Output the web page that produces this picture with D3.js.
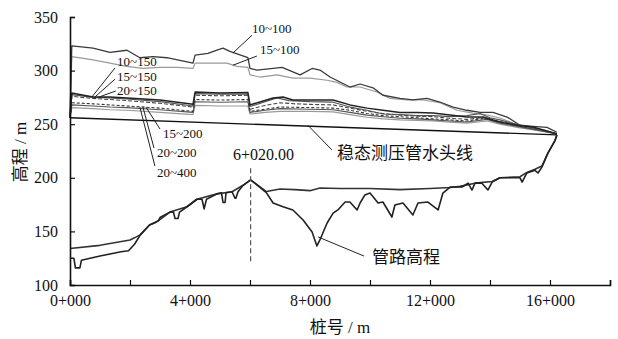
<!DOCTYPE html>
<html><head><meta charset="utf-8">
<script src="https://cdn.jsdelivr.net/npm/d3@7"></script>
<style>
body{margin:0;background:#fff;}
text{font-family:"Liberation Serif","Times New Roman","Noto Sans CJK SC",serif;fill:#111;}
.cjk{font-family:"Liberation Serif","Noto Sans CJK SC",serif;}
</style></head><body>
<svg id="c" width="618" height="339"></svg>
<script>
// ---- data (x: station m, y: elevation m) ----
const xTicks = [0,2000,4000,6000,8000,10000,12000,14000,16000,18000];
const xTickLabels = {0:"0+000",4000:"4+000",8000:"8+000",12000:"12+000",16000:"16+000"};
const yTicks = [100,150,200,250,300,350];

const steady = [[0,256],[16230,240]];

const h10_100 = [[0,256],[60,323],[770,321],[1330,317],[1900,319],[2330,312],[2770,313],[3230,312],[4100,307],[4170,314.5],[4600,316],[4900,319],[5100,321],[5330,318],[5930,312],[6000,302],[6230,300.5],[6770,302],[7070,303],[7670,296],[8070,302],[8330,300.5],[8670,294],[9100,288],[9330,284.7],[9670,287.5],[10100,284],[10430,277],[11000,274],[11430,272.6],[11900,274],[12330,270.7],[12770,266],[13230,263],[13670,261],[14100,261],[14570,256.7],[15000,249],[15430,248],[15900,247],[16230,242.5]];
const h15_100 = [[0,256],[60,313],[770,310],[1330,307],[1900,304],[2430,302],[3000,303],[3570,303],[4100,302],[4170,307],[4670,307],[5230,307],[5570,304],[5930,303],[6000,296],[6330,294],[6900,296],[7430,293],[8000,293],[8570,291],[8900,289],[9230,284.7],[9670,284.7],[10230,280],[10670,274],[11230,272.6],[11770,272.6],[12330,270],[12900,263],[13430,260.4],[13900,258.6],[14330,255.8],[14770,251],[15230,247.4],[15830,244.6],[16230,241]];
const h10_150 = [[0,256],[60,279],[770,275.4],[1330,275.4],[1900,274.4],[3000,272.6],[4100,268.5],[4170,280],[5000,279],[5930,279.5],[6000,268],[6330,270.7],[6770,274.4],[7100,275.4],[7430,272.6],[8000,272.6],[8770,272.6],[9330,268],[9900,265],[10430,263],[11000,261],[11570,261],[12100,260.4],[12670,258.6],[13230,256.7],[13770,256.7],[14330,252],[14900,249],[15430,247.4],[16230,241]];
const h15_150 = [[0,256],[60,277.5],[770,275],[1330,274.5],[1900,273.5],[3000,271],[4100,267],[4170,278.5],[5000,278],[5930,278],[6000,266.5],[6400,270],[6900,274.5],[7300,272],[8000,271],[8770,270.5],[9330,266],[9900,263],[10430,259.5],[11000,259],[11570,258],[12100,258],[12670,257],[13230,258],[13670,260],[14000,256],[14330,254],[15000,249],[15600,245],[16230,241]];
const h20_150 = [[0,256],[60,276],[770,274],[1330,273],[1900,272],[3000,269.5],[4100,266],[4170,277],[5000,276.5],[5930,277],[6000,264],[6500,267.5],[7000,270],[7500,269],[8000,268.5],[8770,268],[9330,265],[9900,262],[10430,260],[11000,258.5],[11570,257.5],[12100,257],[12670,255.5],[13230,254.5],[13770,256],[14330,252.5],[15000,249],[15600,245.5],[16230,241]];
const h15_200 = [[0,256],[60,270],[770,269],[1330,268],[1900,267],[3000,265],[4100,262],[4170,273],[5000,272.5],[5930,273],[6000,262],[6500,264],[7000,266],[8000,265.5],[8770,265],[9330,263],[9900,260],[10430,258],[11000,257],[11570,256],[12100,255],[12670,254],[13230,253],[13800,255.5],[14330,252],[15000,248],[15600,245],[16230,241]];
const h20_200 = [[0,256],[60,268],[770,267],[1330,266],[1900,265.5],[3000,263.5],[4100,261],[4170,271],[5000,270.5],[5930,271],[6000,261],[6500,263],[7000,264.5],[8000,264],[8770,263.5],[9330,261],[9900,258.5],[10430,257],[11000,255.5],[11570,255],[12100,254],[12670,253],[13230,252],[13900,254.5],[14330,251],[15000,247.5],[15600,244.5],[16230,241]];
const h20_400 = [[0,256],[60,265.5],[770,264.5],[1330,263.5],[1900,263],[3000,261],[4100,259],[4170,267.5],[5000,267],[5930,267],[6000,259.5],[6500,261],[7000,262],[8000,262],[8770,261.5],[9330,259],[9900,256.5],[10430,255],[11000,254],[11570,253.5],[12100,253],[12670,252],[13230,251],[13900,253],[14330,250],[15000,246.5],[15600,244],[16230,241]];

const pipeline = [[0,125],[130,125],[180,116],[330,116],[380,123],[1000,127],[1700,131],[1950,132],[2150,138],[2350,147],[2650,156],[2830,158],[2950,160],[3000,163],[3330,168],[3450,168],[3500,162],[3600,162],[3650,168],[3900,173],[4230,180],[4400,180],[4470,171],[4550,180],[4900,185],[5050,186],[5100,177],[5170,177],[5200,186],[5400,187],[5500,181],[5530,181],[5600,187],[5770,193],[6020,198],[6500,188],[6770,176.5],[7100,173],[7430,170],[7770,160.6],[8070,149.4],[8230,136.4],[8330,142],[8570,157.8],[8770,167],[8930,170],[9170,177.4],[9330,177.4],[9570,170],[9670,176.5],[9830,184],[10000,185.8],[10270,176.5],[10430,177.4],[10730,163.4],[10830,174.6],[11100,176.5],[11430,165.3],[11600,176.5],[11930,177.4],[12270,170],[12430,185.8],[12670,191.4],[13070,191.4],[13270,195],[13400,188.6],[13500,195],[13730,195],[13930,188.6],[14070,196],[14330,200],[15000,200],[15070,196],[15230,204.5],[15500,207],[15600,204.5],[15730,210],[15930,223],[16170,235],[16230,240]];

const minHead = [[0,134],[1000,137],[2000,142],[2150,144],[2350,147],[2650,156],[2950,160],[3330,168],[3900,173],[4230,180],[4900,185],[5400,187],[5770,193],[6020,198],[6200,194],[6500,187],[7000,189.5],[7500,189],[8000,188],[8330,190.5],[9000,190],[10000,190],[11000,189],[12000,190],[12670,191],[13000,192],[13500,195],[14070,196.5],[14330,200],[15000,201],[15230,205],[15500,208],[15730,211],[15930,223],[16170,235],[16230,240]];

const peakStation = 6020;
const peakLabel = "6+020.00";

// series labels: [text, labelX, labelY, fromX, fromY, toX, toY] in data units
const seriesLabels = [
  ["10~100",6067,335,6067,333,5430,316.4],
  ["15~100",6330,315.5,6230,313.6,5430,305],
  ["10~150",1570,304,1500,302.5,730,275.4],
  ["15~150",1570,290.5,1500,292,830,275.4],
  ["20~150",1570,277.5,1530,281,970,275.4],
  ["15~200",3100,237,3000,245.5,2530,266],
  ["20~200",2900,219.4,2800,227.8,2430,266],
  ["20~400",2900,200.7,2830,211,2330,266]
];
const steadyLabel = ["稳态测压管水头线",8900,217.5,7930,249,8730,226];
const pipeLabel = ["管路高程",10070,120.5,8270,144.8,9800,127];

// ---- drawing ----
const svg = d3.select("#c");
const x = d3.scaleLinear().domain([0,18000]).range([70,610]);
const y = d3.scaleLinear().domain([100,350]).range([285,17]);
const line = d3.line().x(d=>x(d[0])).y(d=>y(d[1]));

function draw(data, color, width, dash){
  svg.append("path").attr("d", line(data)).attr("fill","none")
    .attr("stroke", color).attr("stroke-width", width)
    .attr("stroke-dasharray", dash || null).attr("stroke-linejoin","round");
}
draw(h15_100,"#9a9a9a",1.2);
draw(h10_100,"#3a3a3a",1.3);
draw(h20_400,"#9a9a9a",1.2);
draw(h20_200,"#555",1.1);
draw(h15_200,"#333",1.1,"3,2");
draw(h20_150,"#444",1.1,"4,2");
draw(h15_150,"#555",1.2);
draw(h10_150,"#222",1.5);
draw(steady,"#111",1.3);
draw(minHead,"#333",1.6);
draw(pipeline,"#222",1.6);

// dashed marker at peak
svg.append("line").attr("x1",x(peakStation)).attr("x2",x(peakStation))
  .attr("y1",y(209)).attr("y2",y(120.5)).attr("stroke","#555")
  .attr("stroke-width",1.2).attr("stroke-dasharray","5,3");
svg.append("text").attr("x",x(5430)).attr("y",y(216.6)).attr("font-size",16).text(peakLabel);

// labels & leaders
function lab(a, size, cls){
  svg.append("line").attr("x1",x(a[3])).attr("y1",y(a[4])).attr("x2",x(a[5])).attr("y2",y(a[6]))
    .attr("stroke","#222").attr("stroke-width",1);
  svg.append("text").attr("x",x(a[1])).attr("y",y(a[2])).attr("font-size",size)
    .attr("class",cls||null).text(a[0]);
}
seriesLabels.forEach(a=>lab(a,13));
lab(steadyLabel,17,"cjk");
lab(pipeLabel,17,"cjk");

// axes
const gx = svg.append("g").attr("transform","translate(0,285)")
  .call(d3.axisBottom(x).tickValues(xTicks).tickSize(-5).tickPadding(10)
    .tickFormat(d=>xTickLabels[d]||""));
const gy = svg.append("g").attr("transform","translate(70,0)")
  .call(d3.axisLeft(y).tickValues(yTicks).tickSize(-5).tickPadding(12).tickFormat(d3.format("d")));
[gx,gy].forEach(g=>{
  g.select(".domain").attr("stroke","#111").attr("stroke-width",1.6);
  g.selectAll(".tick line").attr("stroke","#111").attr("stroke-width",1.2);
  g.selectAll(".tick text").attr("font-size",16).attr("fill","#111")
    .attr("font-family","Liberation Serif, Times New Roman, serif");
});

svg.append("text").attr("class","cjk").attr("x",340).attr("y",333).attr("text-anchor","middle")
  .attr("font-size",17).text("桩号 / m");
svg.append("text").attr("class","cjk").attr("transform","translate(26,152) rotate(-90)")
  .attr("text-anchor","middle").attr("font-size",17).attr("fill","#444").text("高程 / m");
</script></body></html>
